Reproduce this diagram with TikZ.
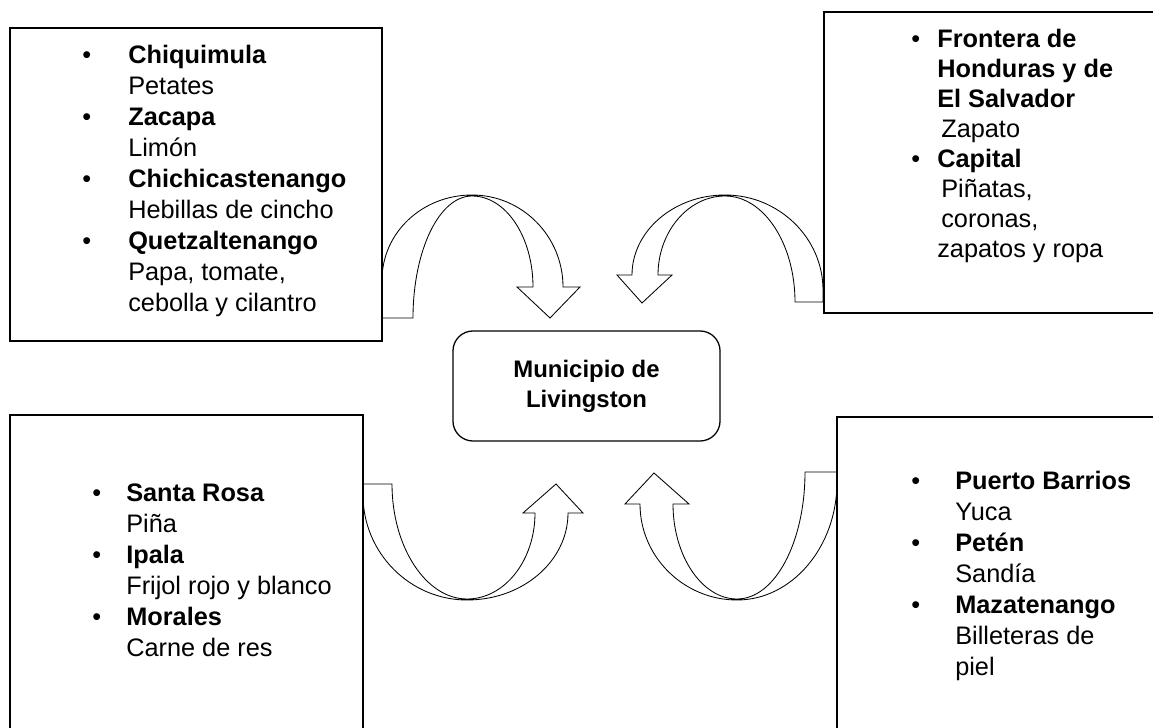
\documentclass[tikz,border=0pt]{standalone}
\usepackage{fontspec}
\setmainfont{Liberation Sans}
\usepackage{array}

\begin{document}
\begin{tikzpicture}[x=0.025cm, y=-0.025cm,
	caja/.style={draw, line width=0.9pt},
	flecha/.style={draw, fill=white, line width=0.6pt, line join=miter},
	lista/.style={inner sep=0pt, anchor=base west, font=\fontsize{18}{22}\selectfont}]

				\useasboundingbox (0,0) rectangle (1153,728);
				\clip (0,0) rectangle (1153,728);

				% flechas curvas
				\draw[flecha] (382,318) -- (382,280) .. controls (382,233) and (422,195) .. (472,195)
					.. controls (522,195) and (563,236) .. (563,287) -- (580,287) -- (550,318) -- (517,287) -- (533,287)
					.. controls (533,237) and (506,196) .. (472,196)
					.. controls (439,196) and (413,251) .. (413,318) -- cycle;
				\draw[flecha] (823,302) -- (823,290) .. controls (823,238) and (779,195) .. (725,195)
					.. controls (674,195) and (632,231) .. (632,275) -- (617,275) -- (642,303) -- (672,275) -- (658,275)
					.. controls (658,232) and (688,196) .. (725,196)
					.. controls (764,196) and (795,244) .. (795,302) -- cycle;
				\draw[flecha] (363,484) -- (363,495) .. controls (363,553) and (410,600) .. (467,600)
					.. controls (523,600) and (568,561) .. (568,513) -- (583,513) -- (556,484) -- (523,513) -- (535,513)
					.. controls (535,560) and (505,599) .. (467,599)
					.. controls (426,599) and (392,547) .. (392,484) -- cycle;
				\draw[flecha] (837,472) -- (837,482) .. controls (837,547) and (792,600) .. (737,600)
					.. controls (684,600) and (640,557) .. (640,504) -- (625,504) -- (654,473) -- (689,504) -- (673,504)
					.. controls (673,556) and (702,599) .. (737,599)
					.. controls (775,599) and (805,542) .. (805,472) -- cycle;

				% cajas
				\draw[caja] (10,28) rectangle (382,341);
				\draw[caja] (824,12) rectangle (1160,313);
				\draw[caja] (10,415) rectangle (363,740);
				\draw[caja] (837,417) rectangle (1160,740);

				\node[caja, rounded corners=0.5cm, minimum width=6.675cm, minimum height=2.75cm, align=center,
					font=\bfseries\fontsize{17}{21.3}\selectfont] (muni) at (586.5,386) {Municipio de\\Livingston};

				\node[lista] (occidente) at (82,64) {\begin{tabular}[t]{@{}p{1.15cm}@{}l@{}}
					• & \textbf{Chiquimula}\\ & Petates\\
					• & \textbf{Zacapa}\\ & Limón\\
					• & \textbf{Chichicastenango}\\ & Hebillas de cincho\\
					• & \textbf{Quetzaltenango}\\ & Papa, tomate,\\ & cebolla y cilantro
				\end{tabular}};
				\node[lista, font=\fontsize{18}{21.3}\selectfont] (frontera) at (911,48) {\begin{tabular}[t]{@{}p{0.65cm}@{}l@{}}
					• & \textbf{Frontera de}\\ & \textbf{Honduras y de}\\ & \textbf{El Salvador}\\ & \hspace{0.1cm}Zapato\\
					• & \textbf{Capital}\\ & \hspace{0.1cm}Piñatas,\\ & \hspace{0.1cm}coronas,\\ & zapatos y ropa
				\end{tabular}};
				\node[lista] (oriente) at (92,502) {\begin{tabular}[t]{@{}p{0.85cm}@{}l@{}}
					• & \textbf{Santa Rosa}\\ & Piña\\
					• & \textbf{Ipala}\\ & Frijol rojo y blanco\\
					• & \textbf{Morales}\\ & Carne de res
				\end{tabular}};
				\node[lista] (norte) at (911,490) {\begin{tabular}[t]{@{}p{1.1cm}@{}l@{}}
					• & \textbf{Puerto Barrios}\\ & Yuca\\
					• & \textbf{Petén}\\ & Sandía\\
					• & \textbf{Mazatenango}\\ & Billeteras de\\ & piel
				\end{tabular}};

\end{tikzpicture}
\end{document}
